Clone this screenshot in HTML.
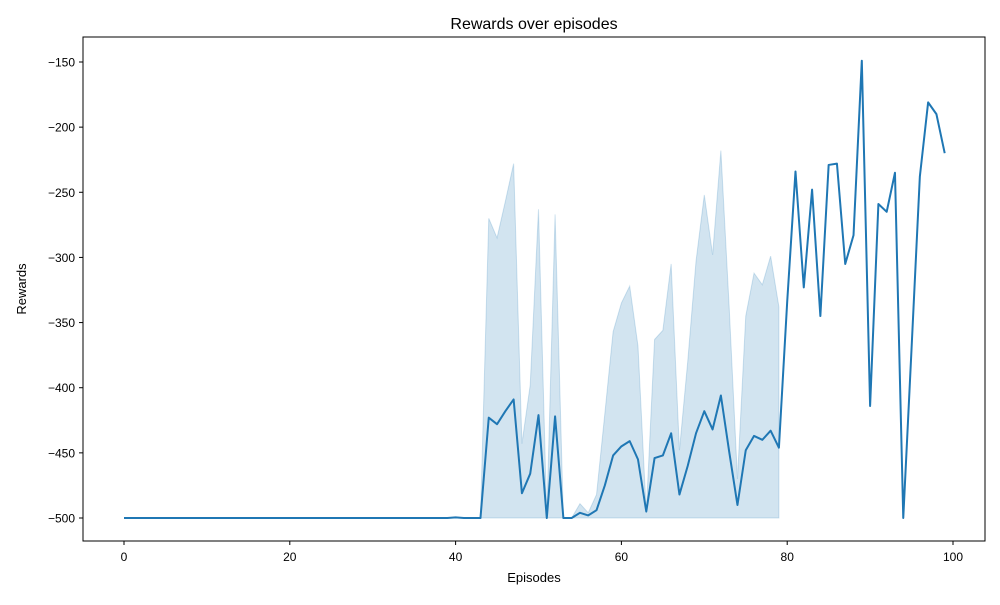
<!DOCTYPE html>
<html><head><meta charset="utf-8"><style>
body{margin:0;background:#fff;font-family:"Liberation Sans","DejaVu Sans",sans-serif}
svg text{font-family:"Liberation Sans","DejaVu Sans",sans-serif;fill:#000}
</style></head><body>
<svg id="chart" width="1000" height="600" xmlns="http://www.w3.org/2000/svg">
<text x="534" y="29" font-size="16" text-anchor="middle">Rewards over episodes</text>
<g id="band"></g>
<g id="line"></g>
<rect x="83" y="37" width="902" height="504" fill="none" stroke="#000" stroke-width="1"/>
<g id="xticks"></g>
<g id="yticks"></g>
<text x="534" y="582" font-size="13" text-anchor="middle">Episodes</text>
<text x="26" y="289" font-size="13" text-anchor="middle" transform="rotate(-90 26 289)">Rewards</text>
</svg>
<script>
const meanRewards = [-500,-500,-500,-500,-500,-500,-500,-500,-500,-500,
-500,-500,-500,-500,-500,-500,-500,-500,-500,-500,
-500,-500,-500,-500,-500,-500,-500,-500,-500,-500,
-500,-500,-500,-500,-500,-500,-500,-500,-500,-500,
-499.5,-500,-500,-500,-423,-428,-418,-409,-481,-466,
-421,-500,-422,-500,-500,-496,-498,-494,-475,-452,
-445,-441,-455,-495,-454,-452,-435,-482,-460,-435,
-418,-432,-406,-449,-490,-448,-437,-440,-433,-446,
-334,-234,-323,-248,-345,-229,-228,-305,-283,-149,
-414,-259,-265,-235,-500,-370,-238,-181,-190,-220];
const bandStart = 43;
const bandUpper = [-500,-270,-285,-257,-228,-443,-398,-263,-500,-267,
-500,-500,-489,-496,-482,-420,-357,-335,-322,-368,
-496,-363,-356,-305,-448,-380,-303,-252,-298,-218,
-338,-470,-345,-312,-321,-299,-338];
const bandLower = [-500,-500,-500,-500,-500,-500,-500,-500,-500,-500,
-500,-500,-500,-500,-500,-500,-500,-500,-500,-500,
-500,-500,-500,-500,-500,-500,-500,-500,-500,-500,
-500,-500,-500,-500,-500,-500,-500];
const xTicks = [0,20,40,60,80,100];
const yTicks = [-500,-450,-400,-350,-300,-250,-200,-150];

const NS="http://www.w3.org/2000/svg";
function xs(v){return 124+v*8.29;}
function ys(v){return 518-(v+500)*(456/350);}
function mk(tag,attrs,parent){const e=document.createElementNS(NS,tag);for(const k in attrs)e.setAttribute(k,attrs[k]);parent.appendChild(e);return e;}

let pts=[];
bandUpper.forEach((v,i)=>pts.push(xs(bandStart+i)+","+ys(v)));
for(let i=bandLower.length-1;i>=0;i--)pts.push(xs(bandStart+i)+","+ys(bandLower[i]));
const poly=mk("polygon",{points:pts.join(" "),fill:"#1f77b4","fill-opacity":"0.2",stroke:"#1f77b4","stroke-opacity":"0.2"},document.getElementById("band"));



const lp=mk("polyline",{points:meanRewards.map((v,i)=>xs(i)+","+ys(v)).join(" "),fill:"none",stroke:"#1f77b4","stroke-width":"2","stroke-linejoin":"round"},document.getElementById("line"));



const xg=document.getElementById("xticks");
xTicks.forEach(t=>{
 const x=xs(t);
 const l=mk("line",{x1:x,x2:x,y1:541,y2:545,stroke:"#000"},xg);
 
 
 const tx=mk("text",{x:x,y:561,"font-size":"12","text-anchor":"middle"},xg);
 tx.textContent=t;
 
 
});
const yg=document.getElementById("yticks");
yTicks.forEach(t=>{
 const y=ys(t);
 const l=mk("line",{x1:79,x2:83,y1:y,y2:y,stroke:"#000"},yg);
 
 
 const tx=mk("text",{x:75,y:y+4.5,"font-size":"12","text-anchor":"end"},yg);
 tx.textContent=String(t).replace("-","\u2212");
 
 
});
</script>
</body></html>
